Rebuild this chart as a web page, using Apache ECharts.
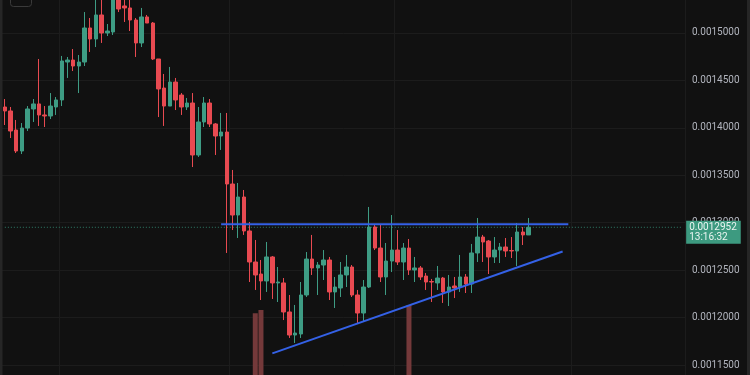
<!DOCTYPE html>
<html><head><meta charset="utf-8">
<script src="https://cdn.jsdelivr.net/npm/echarts@6/dist/echarts.min.js"></script>
<style>html,body{margin:0;padding:0;background:#111111;}#c{width:750px;height:375px;}</style>
</head><body><div id="c"></div>
<script>
// ---- data ----
const opens = [
0.0014220,0.0014178,0.0013977,0.0013756,0.0013998,0.0014199,0.0014252,0.0014136,0.0014125,0.0014220,
0.0014294,0.0014694,0.0014715,0.0014652,0.0014694,0.0015053,0.0014937,0.0015190,0.0015000,0.0015011,
0.0015380,0.0015285,0.0015264,0.0015137,0.0014895,0.0015169,0.0015105,0.0014726,0.0014420,0.0014230,
0.0014483,0.0014346,0.0014220,0.0014262,0.0013714,0.0014062,0.0014262,0.0014041,0.0013914,0.0013956,
0.0013408,0.0013081,0.0013271,0.0012913,0.0012586,0.0012459,0.0012386,0.0012639,0.0012365,0.0012365,
0.0012059,0.0011816,0.0011827,0.0012238,0.0012617,0.0012523,0.0012554,0.0012607,0.0012270,0.0012312,
0.0012449,0.0012533,0.0012238,0.0012048,0.0012322,0.0012955,0.0012733,0.0012428,0.0012596,0.0012712,
0.0012586,0.0012733,0.0012502,0.0012523,0.0012438,0.0012380,0.0012365,0.0012417,0.0012270,0.0012333,
0.0012322,0.0012428,0.0012354,0.0012681,0.0012849,0.0012807,0.0012639,0.0012712,0.0012744,0.0012707,
0.0012702,0.0012902,0.0012871];
const closes = [
0.0014178,0.0013967,0.0013756,0.0013998,0.0014199,0.0014252,0.0014136,0.0014125,0.0014230,0.0014294,
0.0014705,0.0014715,0.0014652,0.0014694,0.0015053,0.0014937,0.0015190,0.0015000,0.0015021,0.0015411,
0.0015253,0.0015264,0.0015137,0.0014895,0.0015169,0.0015105,0.0014726,0.0014410,0.0014230,0.0014483,
0.0014294,0.0014220,0.0014262,0.0013714,0.0014062,0.0014262,0.0014041,0.0013914,0.0013956,0.0013408,
0.0013081,0.0013271,0.0012913,0.0012586,0.0012449,0.0012386,0.0012639,0.0012365,0.0012375,0.0012059,
0.0011816,0.0011837,0.0012238,0.0012617,0.0012523,0.0012554,0.0012607,0.0012270,0.0012322,0.0012449,
0.0012533,0.0012238,0.0012048,0.0012322,0.0012955,0.0012733,0.0012428,0.0012596,0.0012712,0.0012586,
0.0012733,0.0012502,0.0012523,0.0012428,0.0012375,0.0012375,0.0012417,0.0012270,0.0012322,0.0012312,
0.0012428,0.0012354,0.0012681,0.0012849,0.0012797,0.0012639,0.0012712,0.0012744,0.0012702,0.0012702,
0.0012902,0.0012871,0.0012952];
const lows = [
0.0014030,0.0013893,0.0013735,0.0013724,0.0013967,0.0014062,0.0014020,0.0014009,0.0014093,0.0014136,
0.0014230,0.0014526,0.0014599,0.0014367,0.0014652,0.0014800,0.0014852,0.0014895,0.0014968,0.0014979,
0.0015221,0.0015116,0.0015021,0.0014747,0.0014852,0.0015105,0.0014715,0.0014114,0.0014020,0.0014230,
0.0014188,0.0014136,0.0014188,0.0013587,0.0013693,0.0014009,0.0014009,0.0013714,0.0013767,0.0012681,
0.0012923,0.0012839,0.0012871,0.0012375,0.0012291,0.0012185,0.0012270,0.0012196,0.0012164,0.0011974,
0.0011785,0.0011732,0.0011785,0.0012217,0.0012449,0.0012238,0.0012396,0.0012185,0.0012101,0.0012217,
0.0012322,0.0012217,0.0011943,0.0011953,0.0012312,0.0012712,0.0012375,0.0012238,0.0012480,0.0012554,
0.0012396,0.0012449,0.0012375,0.0012396,0.0012291,0.0012164,0.0012291,0.0012154,0.0012122,0.0012206,
0.0012270,0.0012259,0.0012259,0.0012586,0.0012586,0.0012459,0.0012575,0.0012575,0.0012639,0.0012628,
0.0012544,0.0012765,0.0012871];
const highs = [
0.0014304,0.0014220,0.0014083,0.0014051,0.0014230,0.0014304,0.0014726,0.0014230,0.0014367,0.0014325,
0.0014758,0.0014747,0.0014831,0.0014768,0.0015221,0.0015158,0.0015401,0.0015380,0.0015095,0.0015474,
0.0015432,0.0015369,0.0015369,0.0015158,0.0015264,0.0015190,0.0015116,0.0014726,0.0014568,0.0014642,
0.0014526,0.0014367,0.0014315,0.0014367,0.0014220,0.0014325,0.0014304,0.0014051,0.0014157,0.0014157,
0.0013556,0.0013419,0.0013345,0.0013008,0.0012818,0.0012607,0.0012797,0.0012649,0.0012533,0.0012417,
0.0012238,0.0012133,0.0012375,0.0012691,0.0012871,0.0012586,0.0012712,0.0012639,0.0012428,0.0012586,
0.0012660,0.0012554,0.0012291,0.0012396,0.0013166,0.0012976,0.0012976,0.0012786,0.0013081,0.0012923,
0.0012786,0.0012828,0.0012639,0.0012544,0.0012470,0.0012407,0.0012544,0.0012428,0.0012449,0.0012428,
0.0012660,0.0012459,0.0012776,0.0013050,0.0012871,0.0012818,0.0012849,0.0012786,0.0012839,0.0012849,
0.0012997,0.0012955,0.0013050];
// visible volume bars: [candle index, volume (relative units)]
const volumeBars = [[44, 95.2], [45, 96.4], [71, 98.2]];
const resistanceLine = [[38, 0.0012983], [99, 0.0012983]];
const trendLine = [[47, 0.0011623], [98, 0.0012697]];
const countdownText = '13:16:32';
const slotCount = 120;               // candles + empty right margin
const verticalGridSlots = [10, 40, 69, 100];
const priceMin = 0.00110, priceMax = 0.00155, priceStep = 0.00005;

// ---- build ----
const slots = Array.from({length: slotCount}, (_, i) => String(i));
const candles = opens.map((o, i) => [o, closes[i], lows[i], highs[i]]);
const volumes = slots.map(() => null);
volumeBars.forEach(([i, v]) => { volumes[i] = v; });
const lastPrice = closes[closes.length - 1];
const priceLine = [[0, lastPrice], [slotCount - 1, lastPrice]];

const UP = '#3e9c84', DOWN = '#e84a51';
const chart = echarts.init(document.getElementById('c'), null, {renderer: 'canvas'});
chart.setOption({
  backgroundColor: '#111111',
  animation: false,
  grid: [
    {left: 2, right: 65, top: -14.43, bottom: -37.43, outerBoundsMode: 'none', containLabel: false},
    {left: 2, right: 65, top: 300, bottom: -200, outerBoundsMode: 'none', containLabel: false}
  ],
  xAxis: [
    {type: 'category', data: slots, boundaryGap: true,
     axisLine: {show: false}, axisTick: {show: false}, axisLabel: {show: false},
     splitLine: {show: true, interval: (i) => verticalGridSlots.includes(i), lineStyle: {color: '#1c1c1c', width: 1}}},
    {type: 'category', gridIndex: 1, data: slots, boundaryGap: true, show: false}
  ],
  yAxis: [
    {type: 'value', position: 'right', min: priceMin, max: priceMax, interval: priceStep,
     axisLine: {show: false}, axisTick: {show: false},
     splitLine: {show: true, lineStyle: {color: '#1c1c1c', width: 1}},
     axisLabel: {color: '#b2b5be', fontSize: 10, fontFamily: 'Roboto', margin: 7,
                 formatter: (v) => v.toFixed(7)}},
    {type: 'value', gridIndex: 1, min: 0, max: 100, show: false, splitLine: {show: false}}
  ],
  graphic: [
    {type: 'rect', left: 0, top: 0, shape: {width: 2.5, height: 375}, style: {fill: '#262626'}, z: 100},
    {type: 'rect', left: 747, top: 0, shape: {width: 3, height: 375}, style: {fill: '#262626'}, z: 100},
    {type: 'rect', left: 8, top: -7, shape: {width: 21, height: 11, r: 3}, style: {fill: 'none', stroke: '#3a3a3a', lineWidth: 1}, z: 100}
  ],
  series: [
    {type: 'bar', xAxisIndex: 1, yAxisIndex: 1, data: volumes, barWidth: 5,
     itemStyle: {color: '#74393a'}, z: 1, silent: true},
    {type: 'line', data: priceLine, symbol: 'none', z: 2, silent: true,
     lineStyle: {color: '#2f7d69', type: [1, 2], width: 1},
     endLabel: {show: true, distance: 4, offset: [0, 5],
       formatter: () => lastPrice.toFixed(7) + '\n' + countdownText,
       backgroundColor: '#3d9a80', color: '#eaf5f1', fontSize: 10, lineHeight: 10.5,
       fontFamily: 'Roboto', padding: [1, 4, 1, 3]}},
    {type: 'candlestick', data: candles, barWidth: 4, clip: false, z: 3,
     itemStyle: {color: UP, color0: DOWN, borderColor: UP, borderColor0: DOWN, borderWidth: 1}},
    {type: 'line', data: resistanceLine, symbol: 'none', z: 5,
     lineStyle: {color: '#3461e6', width: 2}},
    {type: 'line', data: trendLine, symbol: 'none', z: 5,
     lineStyle: {color: '#3461e6', width: 2}}
  ]
});
</script></body></html>
